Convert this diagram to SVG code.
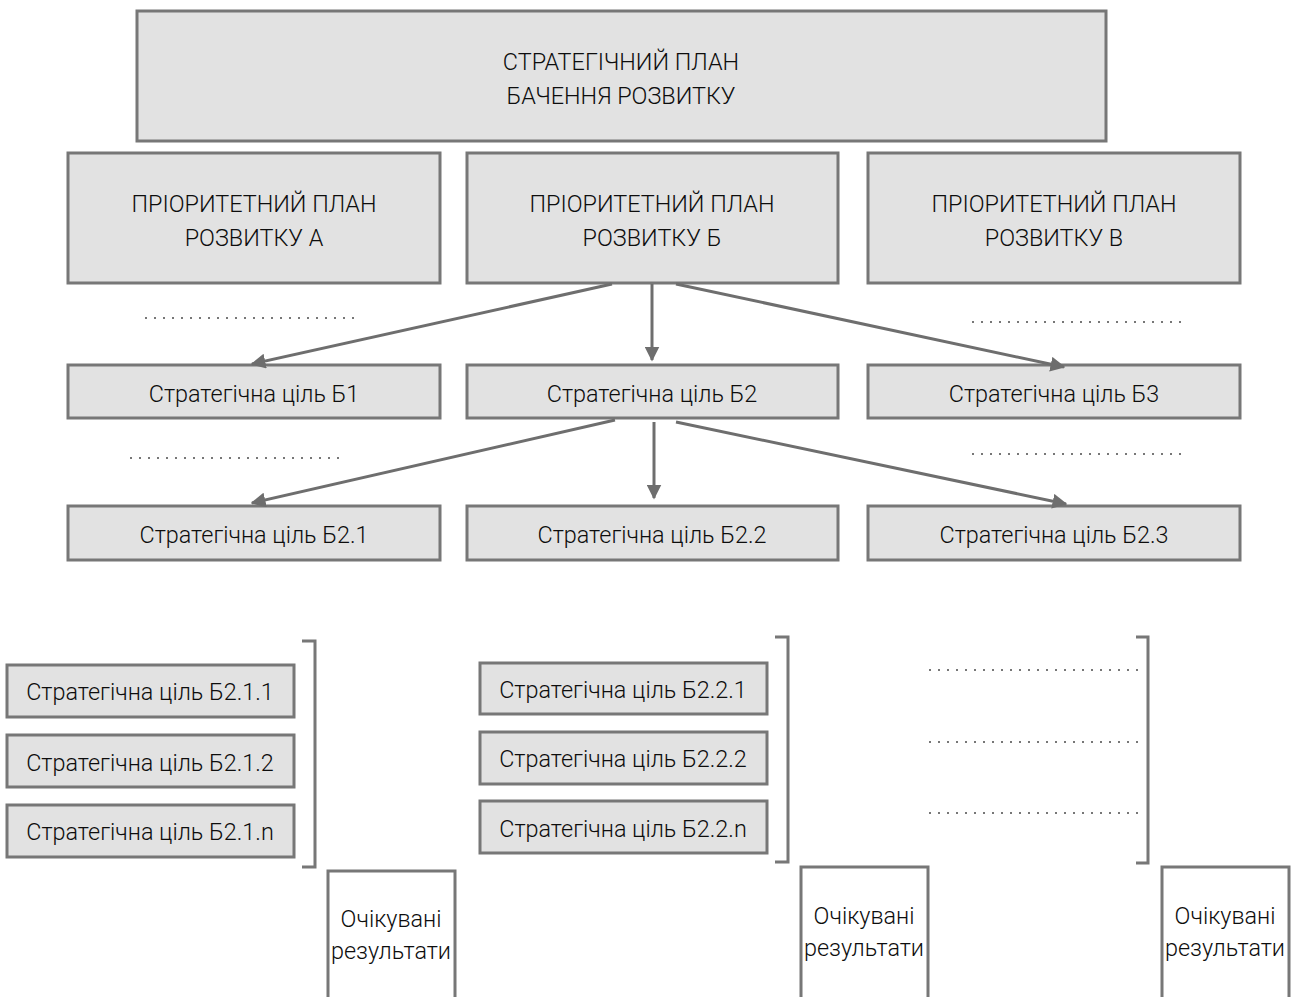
<svg xmlns="http://www.w3.org/2000/svg" width="1293" height="997" viewBox="0 0 1293 997">
  <style>
    .box { fill: #e2e2e2; stroke: #777777; stroke-width: 3; }
    .res { fill: #ffffff; stroke: #777777; stroke-width: 3; }
    .t { font-family: Roboto, "Open Sans", sans-serif; font-weight: 300; font-size: 23.4px; fill: #0d0d0d; text-anchor: middle; }
    .arrow { stroke: #6e6e6e; stroke-width: 3; fill: none; marker-end: url(#ah); }
    .dots { stroke: #777777; stroke-width: 2; stroke-dasharray: 2 7; fill: none; }
    .brk { stroke: #777777; stroke-width: 3; fill: none; }
  </style>
  <defs>
    <marker id="ah" viewBox="0 0 10 10" refX="9" refY="5" markerWidth="5" markerHeight="5" orient="auto" markerUnits="strokeWidth">
      <path d="M0,0 L10,5 L0,10 z" fill="#6e6e6e"/>
    </marker>
  </defs>
  <rect width="1293" height="997" fill="#ffffff"/>

  <!-- top level -->
  <g id="vision">
    <rect class="box" x="137" y="11" width="969" height="130"/>
    <text class="t" x="621" y="70">СТРАТЕГІЧНИЙ ПЛАН</text>
    <text class="t" x="621" y="104">БАЧЕННЯ РОЗВИТКУ</text>
  </g>

  <!-- priority plans -->
  <g id="planA">
    <rect class="box" x="68" y="153" width="372" height="130"/>
    <text class="t" x="254" y="212">ПРІОРИТЕТНИЙ ПЛАН</text>
    <text class="t" x="254" y="246">РОЗВИТКУ А</text>
  </g>
  <g id="planB">
    <rect class="box" x="467" y="153" width="371" height="130"/>
    <text class="t" x="652" y="212">ПРІОРИТЕТНИЙ ПЛАН</text>
    <text class="t" x="652" y="246">РОЗВИТКУ Б</text>
  </g>
  <g id="planC">
    <rect class="box" x="868" y="153" width="372" height="130"/>
    <text class="t" x="1054" y="212">ПРІОРИТЕТНИЙ ПЛАН</text>
    <text class="t" x="1054" y="246">РОЗВИТКУ В</text>
  </g>

  <!-- strategic goals level 1 -->
  <g id="goalB1">
    <rect class="box" x="68" y="365" width="372" height="53"/>
    <text class="t" x="254" y="402">Стратегічна ціль Б1</text>
  </g>
  <g id="goalB2">
    <rect class="box" x="467" y="365" width="371" height="53"/>
    <text class="t" x="652" y="402">Стратегічна ціль Б2</text>
  </g>
  <g id="goalB3">
    <rect class="box" x="868" y="365" width="372" height="53"/>
    <text class="t" x="1054" y="402">Стратегічна ціль Б3</text>
  </g>

  <!-- strategic goals level 2 -->
  <g id="goalB21">
    <rect class="box" x="68" y="506" width="372" height="54"/>
    <text class="t" x="254" y="543">Стратегічна ціль Б2.1</text>
  </g>
  <g id="goalB22">
    <rect class="box" x="467" y="506" width="371" height="54"/>
    <text class="t" x="652" y="543">Стратегічна ціль Б2.2</text>
  </g>
  <g id="goalB23">
    <rect class="box" x="868" y="506" width="372" height="54"/>
    <text class="t" x="1054" y="543">Стратегічна ціль Б2.3</text>
  </g>

  <!-- goals under Б2.1 -->
  <g id="goalB211">
    <rect class="box" x="7" y="665" width="287" height="52"/>
    <text class="t" x="150" y="700">Стратегічна ціль Б2.1.1</text>
  </g>
  <g id="goalB212">
    <rect class="box" x="7" y="735" width="287" height="52"/>
    <text class="t" x="150" y="771">Стратегічна ціль Б2.1.2</text>
  </g>
  <g id="goalB21n">
    <rect class="box" x="7" y="805" width="287" height="52"/>
    <text class="t" x="150" y="840">Стратегічна ціль Б2.1.n</text>
  </g>

  <!-- goals under Б2.2 -->
  <g id="goalB221">
    <rect class="box" x="480" y="663" width="287" height="51"/>
    <text class="t" x="623" y="698">Стратегічна ціль Б2.2.1</text>
  </g>
  <g id="goalB222">
    <rect class="box" x="480" y="732" width="287" height="52"/>
    <text class="t" x="623" y="767">Стратегічна ціль Б2.2.2</text>
  </g>
  <g id="goalB22n">
    <rect class="box" x="480" y="801" width="287" height="52"/>
    <text class="t" x="623" y="837">Стратегічна ціль Б2.2.n</text>
  </g>

  <!-- expected results -->
  <g id="result1">
    <rect class="res" x="328" y="871" width="127" height="140"/>
    <text class="t" x="391" y="927">Очікувані</text>
    <text class="t" x="391" y="959">результати</text>
  </g>
  <g id="result2">
    <rect class="res" x="801" y="867" width="127" height="140"/>
    <text class="t" x="864" y="924">Очікувані</text>
    <text class="t" x="864" y="956">результати</text>
  </g>
  <g id="result3">
    <rect class="res" x="1162" y="867" width="127" height="140"/>
    <text class="t" x="1225" y="924">Очікувані</text>
    <text class="t" x="1225" y="956">результати</text>
  </g>

  <!-- connectors -->
  <g id="connectors">
    <line class="arrow" x1="612" y1="284" x2="252" y2="364"/>
    <line class="arrow" x1="652" y1="284" x2="652" y2="360"/>
    <line class="arrow" x1="676" y1="284" x2="1064" y2="367"/>
    <line class="arrow" x1="615" y1="420" x2="252" y2="503"/>
    <line class="arrow" x1="654" y1="422" x2="654" y2="498"/>
    <line class="arrow" x1="676" y1="422" x2="1066" y2="504"/>
  </g>

  <!-- ellipsis rows -->
  <g id="ellipses">
    <line class="dots" x1="145" y1="318" x2="355" y2="318"/>
    <line class="dots" x1="972" y1="322" x2="1182" y2="322"/>
    <line class="dots" x1="130" y1="458" x2="340" y2="458"/>
    <line class="dots" x1="972" y1="454" x2="1182" y2="454"/>
    <line class="dots" x1="929" y1="670" x2="1140" y2="670"/>
    <line class="dots" x1="929" y1="742" x2="1140" y2="742"/>
    <line class="dots" x1="929" y1="813" x2="1140" y2="813"/>
  </g>

  <!-- brackets -->
  <g id="brackets">
    <path class="brk" d="M302,641 H315 V867 H302"/>
    <path class="brk" d="M775,637 H788 V862 H775"/>
    <path class="brk" d="M1136,637 H1148 V863 H1136"/>
  </g>
</svg>
